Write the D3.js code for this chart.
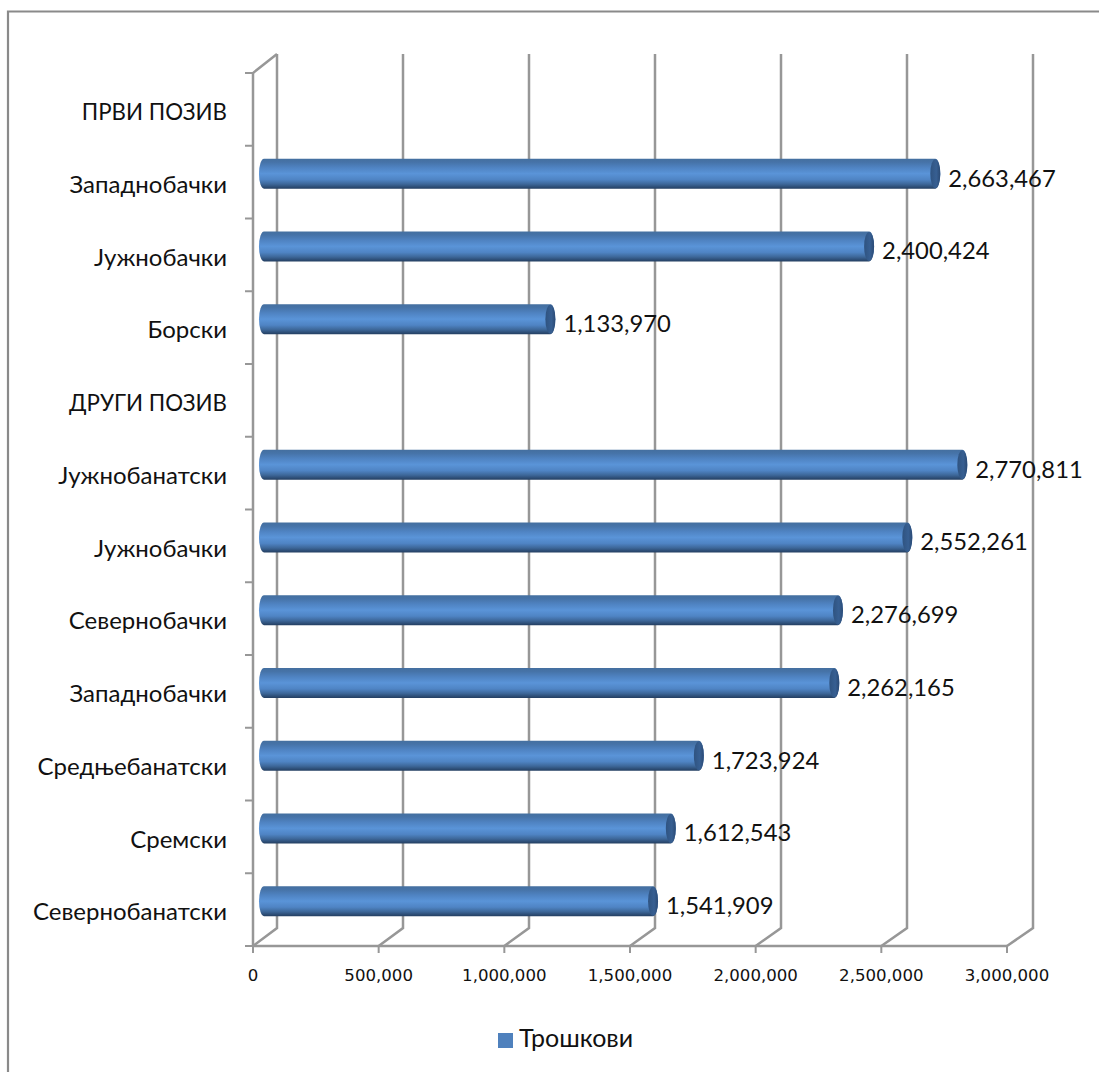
<!DOCTYPE html>
<html><head><meta charset="utf-8">
<script src="https://cdn.jsdelivr.net/npm/d3@7"></script>
<style>html,body{margin:0;padding:0;background:#fff}svg{display:block}</style>
</head><body><svg id="c" width="1099" height="1072"></svg>
<script>
const categories=["ПРВИ ПОЗИВ","Западнобачки","Јужнобачки","Борски","ДРУГИ ПОЗИВ","Јужнобанатски","Јужнобачки","Севернобачки","Западнобачки","Средњебанатски","Сремски","Севернобанатски"];
const values=[null,2663467,2400424,1133970,null,2770811,2552261,2276699,2262165,1723924,1612543,1541909];
const tickValues=[0,500000,1000000,1500000,2000000,2500000,3000000];
const seriesName="Трошкови";
const labelFont="Lato, Carlito, 'Open Sans', sans-serif";

const svg=d3.select("#c");
const fmt=d3.format(",");
const grey="#979797";
// chart geometry
const frontX=d3.scaleLinear().domain([0,3000000]).range([253,1007]);
const backX=d3.scaleLinear().domain([0,3000000]).range([277,1033]);
const barX=d3.scaleLinear().domain([0,3000000]).range([265,1020]);
const y=d3.scaleBand().domain(d3.range(categories.length)).range([73,946]);
const floorY=946,backFloor=928,backTop=54,barOff=-8.5,barH=30,rx=5;

const defs=svg.append("defs");
const g=defs.append("linearGradient").attr("id","cyl").attr("x1",0).attr("y1",0).attr("x2",0).attr("y2",1);
[[0,"#446f9f"],[.12,"#4673a8"],[.3,"#4f83c2"],[.5,"#5a94d8"],[.7,"#4f84c4"],[.85,"#3d6799"],[1,"#243f62"]].forEach(d=>g.append("stop").attr("offset",d[0]).attr("stop-color",d[1]));
const g2=defs.append("linearGradient").attr("id","cap").attr("x1",0).attr("y1",0).attr("x2",1).attr("y2",0);
[[0,"#2f5380"],[.6,"#375f92"],[1,"#2b4a74"]].forEach(d=>g2.append("stop").attr("offset",d[0]).attr("stop-color",d[1]));

// outer border (right and bottom edges fall outside the picture)
svg.append("path").attr("d","M8,1072V11.5H1099").attr("fill","none").attr("stroke","#8a8a8a").attr("stroke-width",2.2);

// back gridlines and floor diagonals
const grid=svg.append("g").attr("fill","none").attr("stroke",grey).attr("stroke-width",2.5);
tickValues.forEach(v=>{
  grid.append("path").attr("d",`M${frontX(v)},${floorY}L${backX(v)},${backFloor}V${backTop}`);
});
// left wall + floor
grid.append("path").attr("d",`M253,${floorY}V73L277,${backTop}`);
grid.append("path").attr("d",`M253,${floorY}H1007`);
// category ticks
d3.range(categories.length+1).forEach(i=>{
  const yy=73+i*y.step();
  grid.append("line").attr("x1",245).attr("x2",253).attr("y1",yy).attr("y2",yy).attr("stroke-width",2);
});
// value ticks
tickValues.forEach(v=>grid.append("line").attr("x1",frontX(v)).attr("x2",frontX(v)).attr("y1",floorY).attr("y2",953).attr("stroke-width",2));

// tick labels
svg.append("g").selectAll("text").data(tickValues).join("text")
  .attr("x",d=>frontX(d)).attr("y",981).attr("text-anchor","middle")
  .attr("font-family","'DejaVu Sans',sans-serif").attr("font-size",16.6).attr("fill","#111")
  .text(d=>fmt(d));

// category labels (capitals in this face run wide, so all-caps headings are narrowed a little)
svg.append("g").selectAll("text").data(categories).join("text")
  .attr("x",227).attr("y",(d,i)=>y(i)+y.bandwidth()/2+10.8).attr("text-anchor","end")
  .attr("font-family",labelFont).attr("font-size",24).attr("fill","#111")
  .text(d=>d)
  .each(function(d){
    if(d===d.toUpperCase()){
      d3.select(this).attr("lengthAdjust","spacingAndGlyphs").attr("textLength",this.getComputedTextLength()*0.93);
    }
  });

// bars
const rows=values.map((v,i)=>({v,i})).filter(d=>d.v!=null);
const bars=svg.append("g").selectAll("g").data(rows).join("g")
  .attr("transform",d=>`translate(0,${y(d.i)+y.bandwidth()/2+barOff-barH/2})`);
bars.append("path")
  .attr("d",d=>{const x=barX(d.v),l=barX(0)-rx-1;
    return `M${l+rx},0H${x}A${rx},${barH/2} 0 0 1 ${x},${barH}H${l+rx}A${rx},${barH/2} 0 0 1 ${l+rx},0Z`;})
  .attr("fill","url(#cyl)");
bars.append("ellipse").attr("cx",d=>barX(d.v)).attr("cy",barH/2).attr("rx",rx).attr("ry",barH/2-.5).attr("fill","url(#cap)");

// value labels
svg.append("g").selectAll("text").data(rows).join("text")
  .attr("x",d=>barX(d.v)+13).attr("y",d=>y(d.i)+y.bandwidth()/2+barOff+13)
  .attr("font-family",labelFont).attr("font-size",23.8).attr("fill","#111")
  .text(d=>fmt(d.v));

// legend
svg.append("rect").attr("x",498).attr("y",1033).attr("width",15).attr("height",15).attr("fill","#4f81bd");
svg.append("text").attr("x",519).attr("y",1047).attr("font-family",labelFont).attr("font-size",25).attr("fill","#111").text(seriesName);
</script></body></html>
